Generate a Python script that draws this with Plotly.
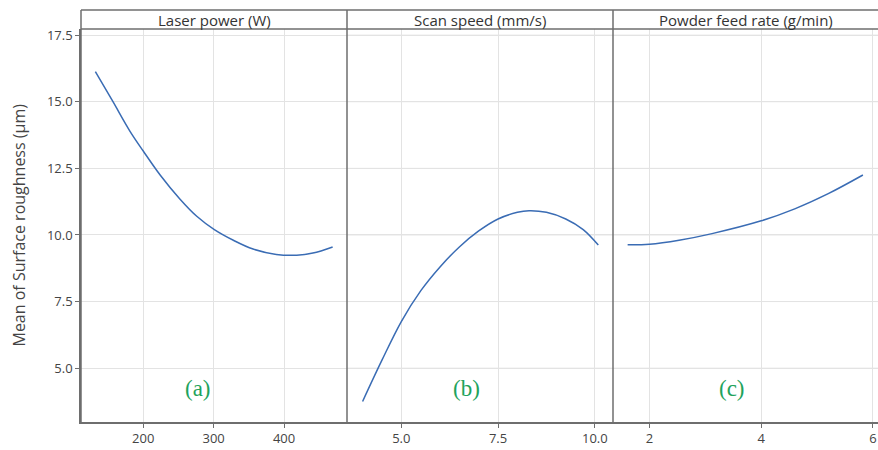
import plotly.graph_objects as go

# ---- data ----
laser_power = [132, 157, 181, 200, 224, 252, 276, 301, 328, 356, 389, 418, 441, 469]
sr_laser = [16.13, 15.00, 13.90, 13.15, 12.25, 11.35, 10.70, 10.20, 9.80, 9.47, 9.27, 9.24, 9.32, 9.55]

scan_speed = [4.0, 4.5, 5.0, 5.5, 6.0, 6.5, 7.0, 7.5, 8.0, 8.3, 8.75, 9.25, 9.7, 10.09]
sr_speed = [3.75, 5.30, 6.75, 7.90, 8.80, 9.55, 10.15, 10.60, 10.85, 10.91, 10.85, 10.60, 10.20, 9.62]

powder_feed = [1.61, 2.0, 2.53, 3.12, 4.0, 4.60, 5.20, 5.82]
sr_feed = [9.63, 9.65, 9.80, 10.05, 10.53, 10.98, 11.55, 12.25]

panel_titles = ["Laser power (W)", "Scan speed (mm/s)", "Powder feed rate (g/min)"]
panel_labels = ["(a)", "(b)", "(c)"]
y_ticks = [5.0, 7.5, 10.0, 12.5, 15.0, 17.5]

W, H = 878, 450
ML, MR, MT, MB = 81, 0, 29, 28
PW = W - ML - MR
PH = H - MT - MB
strip_h = 19 / PH

line_color = "#3a6cb4"
axis_color = "#6e6e6e"
grid_color = "#e3e3e3"
text_color = "#444444"
font_fam = "Open Sans, Noto Sans, sans-serif"

fig = go.Figure()
series = [(laser_power, sr_laser), (scan_speed, sr_speed), (powder_feed, sr_feed)]
for i, (xs, ys) in enumerate(series):
    fig.add_trace(go.Scatter(
        x=xs, y=ys, mode="lines", line=dict(color=line_color, width=1.5, shape="spline"),
        xaxis="x" if i == 0 else f"x{i+1}", yaxis="y", showlegend=False, hoverinfo="skip"))

b1 = 266 / PW
b2 = 532 / PW
domains = [[0, b1], [b1, b2], [b2, 1]]
xranges = [[111.6, 489.4], [3.597, 10.47], [1.348, 6.09]]
xticks = [[200, 300, 400], [5.0, 7.5, 10.0], [2, 4, 6]]
xticktext = [["200", "300", "400"], ["5.0", "7.5", "10.0"], ["2", "4", "6"]]

common_x = dict(showgrid=True, gridcolor=grid_color, gridwidth=1, zeroline=False,
                showline=True, linecolor=axis_color, linewidth=1.5,
                ticks="outside", ticklen=4, tickcolor=axis_color, tickwidth=1,
                tickfont=dict(family=font_fam, size=13, color=text_color),
                anchor="y")
layout_axes = {}
for i in range(3):
    key = "xaxis" if i == 0 else f"xaxis{i+1}"
    layout_axes[key] = dict(common_x, domain=domains[i], range=xranges[i],
                            tickvals=xticks[i], ticktext=xticktext[i])

fig.update_layout(
    width=W, height=H,
    margin=dict(l=ML, r=MR, t=MT, b=MB),
    paper_bgcolor="white", plot_bgcolor="white",
    yaxis=dict(range=[2.98, 17.73], tickvals=y_ticks, ticktext=[f"{v:.1f}" for v in y_ticks],
               showgrid=True, gridcolor=grid_color, gridwidth=1, zeroline=False,
               showline=True, linecolor=axis_color, linewidth=1.5,
               ticks="outside", ticklen=4, tickcolor=axis_color,
               tickfont=dict(family=font_fam, size=13, color=text_color),
               anchor="x", domain=[0, 1]),
    **layout_axes,
)

# horizontal grid lines for panels 2 and 3
for i in (1, 2):
    xref = f"x{i+1}"
    for v in y_ticks:
        fig.add_shape(type="line", xref=f"{xref} domain", yref="y", x0=0, x1=1, y0=v, y1=v,
                      line=dict(color=grid_color, width=1), layer="below")

# separators and strip
shapes_line = dict(color=axis_color, width=1.5)
for xb in (0, b1, b2):
    fig.add_shape(type="line", xref="paper", yref="paper", x0=xb, x1=xb, y0=0, y1=1 + strip_h,
                  line=shapes_line)
fig.add_shape(type="line", xref="paper", yref="paper", x0=0, x1=1, y0=1 + strip_h, y1=1 + strip_h,
              line=shapes_line)
fig.add_shape(type="line", xref="paper", yref="paper", x0=0, x1=1, y0=1, y1=1,
              line=shapes_line)

for i in range(3):
    d = domains[i]
    fig.add_annotation(x=(d[0] + d[1]) / 2, y=1 + strip_h / 2, xref="paper", yref="paper",
                       text=panel_titles[i], showarrow=False, xanchor="center", yanchor="middle",
                       font=dict(family=font_fam, size=15, color="#333333"))
    fig.add_annotation(x=d[0] + (d[1] - d[0]) * (0.44 if i == 0 else 0.45),
                       y=(422 - 388) / PH, xref="paper", yref="paper",
                       text=panel_labels[i], showarrow=False, xanchor="center", yanchor="middle",
                       font=dict(family="Liberation Serif, Times New Roman, serif", size=23, color="#1fa35c"))

fig.add_annotation(x=(18 - ML) / PW, y=0.5, xref="paper", yref="paper",
                   text="Mean of Surface roughness (μm)", textangle=-90, showarrow=False,
                   xanchor="center", yanchor="middle",
                   font=dict(family=font_fam, size=16, color=text_color))

fig.write_html("out.html")
